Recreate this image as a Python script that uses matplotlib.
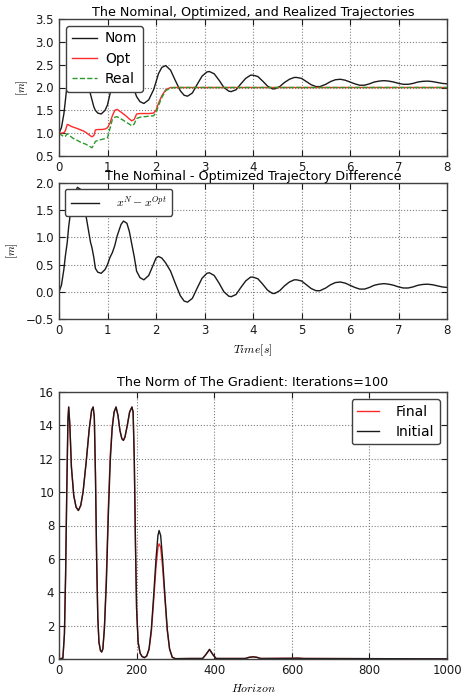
import matplotlib
matplotlib.use("Agg")
import matplotlib.pyplot as plt
import numpy as np

# ---------------- data: trajectories ----------------
t = [0.0, 0.05, 0.1, 0.13, 0.17, 0.2, 0.25, 0.3, 0.38, 0.45, 0.5, 0.55, 0.6, 0.65,
     0.68, 0.72, 0.75, 0.8, 0.87, 0.95, 1.0, 1.05, 1.1, 1.15, 1.2, 1.28, 1.33, 1.4,
     1.45, 1.5, 1.55, 1.6, 1.67, 1.75, 1.85, 1.95, 2.0, 2.05, 2.12, 2.2, 2.3, 2.4,
     2.5, 2.58, 2.65, 2.75, 2.85, 2.95, 3.05, 3.1, 3.2, 3.3, 3.4, 3.5, 3.55, 3.65,
     3.75, 3.85, 3.95, 4.0, 4.1, 4.2, 4.3, 4.4, 4.45, 4.55, 4.65, 4.75, 4.85, 4.9,
     5.0, 5.1, 5.2, 5.3, 5.38, 5.5, 5.6, 5.7, 5.8, 5.9, 6.0, 6.1, 6.2, 6.3, 6.4,
     6.5, 6.6, 6.7, 6.8, 6.9, 7.0, 7.1, 7.2, 7.3, 7.4, 7.5, 7.6, 7.7, 7.8, 7.9, 8.0]

nom = [1.0, 1.12, 1.42, 1.7, 2.1, 2.38, 2.7, 2.9, 3.02, 2.95, 2.75, 2.45, 2.15, 1.85,
       1.73, 1.57, 1.5, 1.44, 1.42, 1.5, 1.62, 1.85, 2.1, 2.35, 2.55, 2.7, 2.72, 2.62,
       2.42, 2.15, 1.95, 1.8, 1.69, 1.65, 1.73, 1.95, 2.12, 2.3, 2.44, 2.48, 2.38, 2.15,
       1.93, 1.83, 1.81, 1.88, 2.07, 2.25, 2.34, 2.35, 2.3, 2.16, 2.0, 1.92, 1.91, 1.95,
       2.08, 2.2, 2.27, 2.27, 2.24, 2.14, 2.03, 1.97, 1.97, 2.02, 2.11, 2.18, 2.22, 2.22,
       2.2, 2.13, 2.06, 2.02, 2.02, 2.07, 2.13, 2.17, 2.18, 2.16, 2.12, 2.08, 2.05, 2.05, 2.08,
       2.12, 2.14, 2.15, 2.14, 2.12, 2.09, 2.07, 2.07, 2.09, 2.12, 2.135, 2.14, 2.13, 2.11, 2.09, 2.08]

opt_head = [1.0, 1.0, 1.01, 1.05, 1.19, 1.18, 1.15, 1.13, 1.1, 1.07, 1.05, 1.02, 0.98, 0.94,
            0.92, 0.95, 1.07, 1.08, 1.08, 1.09, 1.12, 1.22, 1.38, 1.5, 1.52, 1.46, 1.42, 1.36,
            1.31, 1.27, 1.3, 1.42, 1.43, 1.43, 1.43, 1.44, 1.5, 1.65, 1.82, 1.95, 2.0]
real_head = [1.0, 0.96, 0.92, 0.93, 0.99, 0.96, 0.92, 0.88, 0.84, 0.8, 0.78, 0.76, 0.73, 0.7,
             0.68, 0.75, 0.82, 0.84, 0.86, 0.88, 0.9, 1.1, 1.3, 1.35, 1.36, 1.31, 1.28, 1.23,
             1.2, 1.16, 1.2, 1.32, 1.35, 1.36, 1.37, 1.38, 1.45, 1.6, 1.78, 1.93, 1.99]
settled = 2.0
opt = opt_head + [settled] * (len(t) - len(opt_head))
real = real_head + [settled] * (len(t) - len(real_head))

# ---------------- data: gradient norm ----------------
horizon = [0, 10, 14, 17, 20, 23, 25, 28, 32, 38, 44, 50, 56, 62, 70, 78, 84, 88, 91,
           94, 97, 100, 103, 107, 110, 113, 117, 122, 127, 132, 137, 142, 147, 152, 157,
           162, 166, 170, 176, 182, 188, 191, 194, 197, 200, 204, 209, 214, 220, 226, 232,
           238, 244, 250, 255, 258, 262, 267, 273, 279, 285, 292, 300, 340, 370, 378, 388,
           397, 405, 480, 490, 500, 510, 520, 600, 615, 630, 1000]
grad_initial = [0.0, 0.05, 1.5, 5.0, 10.0, 14.3, 15.1, 14.0, 11.5, 9.8, 9.1, 8.9, 9.2, 10.0,
                11.8, 13.8, 14.9, 15.1, 14.5, 11.0, 6.0, 2.5, 1.0, 0.5, 0.42, 0.6, 1.8, 4.5,
                8.5, 11.8, 13.8, 14.8, 15.1, 14.6, 13.7, 13.2, 13.1, 13.3, 14.0, 14.8, 15.1,
                14.8, 12.0, 7.0, 3.0, 1.0, 0.35, 0.15, 0.08, 0.18, 0.6, 1.8, 3.8, 6.0, 7.4,
                7.7, 7.4, 6.0, 3.8, 1.8, 0.6, 0.1, 0.02, 0.03, 0.03, 0.25, 0.58, 0.25, 0.03,
                0.03, 0.1, 0.13, 0.1, 0.03, 0.04, 0.05, 0.03, 0.01]
grad_final = [0.0, 0.05, 1.5, 5.0, 10.0, 14.3, 15.1, 14.0, 11.5, 9.8, 9.1, 8.9, 9.2, 10.0,
              11.8, 13.8, 14.9, 15.1, 14.5, 11.0, 6.0, 2.5, 1.0, 0.5, 0.42, 0.6, 1.9, 4.9,
              9.0, 12.2, 13.9, 14.8, 15.1, 14.6, 13.7, 13.2, 13.1, 13.3, 14.0, 14.8, 15.1,
              14.8, 12.0, 7.0, 3.0, 1.0, 0.35, 0.15, 0.08, 0.18, 0.55, 1.6, 3.5, 5.5, 6.7,
              6.9, 6.7, 5.5, 3.6, 1.7, 0.6, 0.1, 0.02, 0.03, 0.03, 0.25, 0.56, 0.25, 0.03,
              0.03, 0.1, 0.13, 0.1, 0.03, 0.04, 0.05, 0.03, 0.01]

diff = [n - o for n, o in zip(nom, opt)]

# ---------------- styling ----------------
plt.rcParams.update({
    "font.family": "DejaVu Sans",
    "mathtext.fontset": "cm",
    "xtick.direction": "in",
    "ytick.direction": "in",
    "xtick.top": True,
    "ytick.right": True,
    "axes.linewidth": 1.0,
    "legend.fancybox": True,
})

fig = plt.figure(figsize=(4.65, 6.95), dpi=100)
L, W = 59 / 465, 388 / 465
ax1 = fig.add_axes([L, 1 - 156 / 695, W, 137 / 695])
ax2 = fig.add_axes([L, 1 - 319 / 695, W, 136 / 695])
ax3 = fig.add_axes([L, 1 - 659 / 695, W, 267 / 695])

title_fs = 9.2
tick_fs = 8.5
leg_fs = 10

def style(ax):
    ax.grid(True, color="0.5", linestyle=":", linewidth=0.8)
    ax.tick_params(labelsize=tick_fs, length=4, width=0.8, colors="0.1")
    for s in ax.spines.values():
        s.set_color("0.25")

def leg(ax, loc, fs, hl, pad):
    lg = ax.legend(loc=loc, fontsize=fs, handlelength=hl, borderpad=0.4,
                   labelspacing=0.45, handletextpad=pad, framealpha=1)
    lg.get_frame().set_edgecolor("0.25")
    return lg

# Top
ax1.plot(t, nom, color="0.1", lw=1.0, label="Nom")
ax1.plot(t, opt, color="#ff2a2a", lw=1.0, label="Opt")
ax1.plot(t, real, color="#2a9a2a", lw=1.0, ls="--", label="Real")
ax1.set_xlim(0, 8)
ax1.set_ylim(0.5, 3.5)
ax1.set_xticks(range(0, 9))
ax1.set_yticks([0.5, 1.0, 1.5, 2.0, 2.5, 3.0, 3.5])
ax1.set_title("The Nominal, Optimized, and Realized Trajectories", fontsize=title_fs, pad=2)
ax1.set_ylabel("$[m]$", fontsize=8)
style(ax1)
leg(ax1, "upper left", leg_fs, 1.8, 0.6)

# Middle
ax2.plot(t, diff, color="0.1", lw=1.0, label="$x^N - x^{Opt}$")
ax2.set_xlim(0, 8)
ax2.set_ylim(-0.5, 2.0)
ax2.set_xticks(range(0, 9))
ax2.set_yticks([-0.5, 0.0, 0.5, 1.0, 1.5, 2.0])
ax2.set_title("The Nominal - Optimized Trajectory Difference", fontsize=title_fs, pad=2)
ax2.set_ylabel("$[m]$", fontsize=8)
ax2.set_xlabel("$Time[s]$", fontsize=8.5)
style(ax2)
lg = ax2.legend(loc="upper left", fontsize=8.5, handlelength=2.4, borderpad=0.5,
                handletextpad=1.4, framealpha=1)
lg.get_frame().set_edgecolor("0.25")

# Bottom
ax3.plot(horizon, grad_final, color="#ff2a2a", lw=1.0, label="Final")
ax3.plot(horizon, grad_initial, color="0.1", lw=1.0, label="Initial")
ax3.set_xlim(0, 1000)
ax3.set_ylim(0, 16)
ax3.set_yticks(range(0, 17, 2))
ax3.set_title("The Norm of The Gradient: Iterations=100", fontsize=title_fs, pad=4)
ax3.set_xlabel("$Horizon$", fontsize=8.5)
style(ax3)
leg(ax3, "upper right", leg_fs, 1.6, 1.2)

fig.savefig("out.png", dpi=100, facecolor="white")
